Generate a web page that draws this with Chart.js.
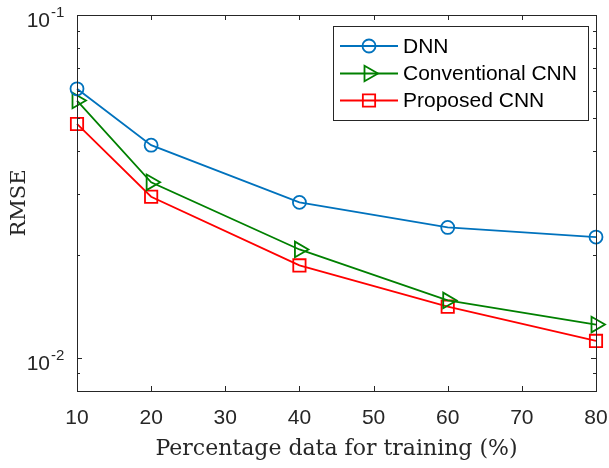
<!DOCTYPE html>
<html>
<head>
<meta charset="utf-8">
<script src="https://cdn.jsdelivr.net/npm/chart.js@4.4.0/dist/chart.umd.min.js"></script>
<style>
  html, body { margin: 0; padding: 0; background: #fff; }
</style>
</head>
<body>
<canvas id="grafikrmse" width="609" height="468"></canvas>
<script>
// data RMSE vs persentase data training
var percentages = [10, 20, 40, 60, 80];
var rmseDNN = [0.0609, 0.0417, 0.0284, 0.0240, 0.0225];
var rmseConvCNN = [0.0563, 0.0325, 0.0207, 0.0147, 0.0125];
var rmseProposedCNN = [0.0481, 0.0295, 0.0186, 0.0141, 0.0112];

var xTicks = [10, 20, 30, 40, 50, 60, 70, 80];
var yMajorTicks = [0.01, 0.1];
var yMajorLabels = [['10', '-2'], ['10', '-1']];
var yMinorTicks = [0.009, 0.02, 0.03, 0.04, 0.05, 0.06, 0.07, 0.08, 0.09];

var axisColor = '#262626';
var sansFont = '"Liberation Sans", Arial, sans-serif';

function toPoints(values) {
    return values.map(function(v, i) { return { x: percentages[i], y: v }; });
}

// gambar marker sendiri untuk legenda
function drawMarker(ctx, style, x, y, r, color) {
    ctx.save();
    ctx.strokeStyle = color;
    ctx.lineWidth = 1.8;
    ctx.beginPath();
    if (style === 'circle') {
        ctx.arc(x, y, r, 0, Math.PI * 2);
    } else if (style === 'triangle') {
        // segitiga menghadap ke kanan
        for (var k = 0; k < 3; k++) {
            var a = Math.PI / 2 + k * 2 * Math.PI / 3;
            var px = x + Math.sin(a) * r, py = y - Math.cos(a) * r;
            if (k === 0) ctx.moveTo(px, py); else ctx.lineTo(px, py);
        }
        ctx.closePath();
    } else {
        var s = Math.SQRT1_2 * r;
        ctx.rect(x - s, y - s, 2 * s, 2 * s);
    }
    ctx.stroke();
    ctx.restore();
}

// kotak sumbu, tick ke dalam, label 10^n dan legenda
var axesPlugin = {
    id: 'axesBox',
    afterDraw: function(chart) {
        var ctx = chart.ctx;
        var area = chart.chartArea;
        var xs = chart.scales.x, ys = chart.scales.y;
        ctx.save();
        ctx.strokeStyle = axisColor;
        ctx.lineWidth = 1;
        ctx.strokeRect(Math.round(area.left) + 0.5, Math.round(area.top) + 0.5,
            Math.round(area.right - area.left), Math.round(area.bottom - area.top));

        ctx.beginPath();
        xTicks.forEach(function(v) {
            var px = Math.round(xs.getPixelForValue(v)) + 0.5;
            ctx.moveTo(px, area.bottom); ctx.lineTo(px, area.bottom - 5);
            ctx.moveTo(px, area.top); ctx.lineTo(px, area.top + 5);
        });
        yMajorTicks.forEach(function(v) {
            var py = Math.round(ys.getPixelForValue(v)) + 0.5;
            ctx.moveTo(area.left, py); ctx.lineTo(area.left + 5, py);
            ctx.moveTo(area.right, py); ctx.lineTo(area.right - 5, py);
        });
        yMinorTicks.forEach(function(v) {
            var py = Math.round(ys.getPixelForValue(v)) + 0.5;
            ctx.moveTo(area.left, py); ctx.lineTo(area.left + 3, py);
            ctx.moveTo(area.right, py); ctx.lineTo(area.right - 3, py);
        });
        ctx.stroke();

        // label sumbu y: 10 dengan pangkat
        ctx.fillStyle = axisColor;
        ctx.textBaseline = 'alphabetic';
        yMajorTicks.forEach(function(v, i) {
            var py = ys.getPixelForValue(v);
            ctx.font = '21px ' + sansFont;
            ctx.textAlign = 'right';
            ctx.fillText(yMajorLabels[i][0], 50, py + 12);
            ctx.font = '15px ' + sansFont;
            ctx.textAlign = 'left';
            ctx.fillText(yMajorLabels[i][1], 51, py + 2);
        });

        // legenda
        var box = { left: 333.5, top: 26.5, width: 255, height: 94 };
        ctx.fillStyle = '#ffffff';
        ctx.fillRect(box.left, box.top, box.width, box.height);
        ctx.strokeStyle = axisColor;
        ctx.strokeRect(box.left, box.top, box.width, box.height);
        var rowsY = [46, 73.5, 100.5];
        chart.data.datasets.forEach(function(ds, i) {
            var y = rowsY[i];
            ctx.strokeStyle = ds.borderColor;
            ctx.lineWidth = 1.8;
            ctx.beginPath();
            ctx.moveTo(340, y); ctx.lineTo(398, y);
            ctx.stroke();
            drawMarker(ctx, ds.pointStyle, 369, y, ds.pointRadius, ds.borderColor);
            ctx.fillStyle = '#000000';
            ctx.font = '21px ' + sansFont;
            ctx.textAlign = 'left';
            ctx.textBaseline = 'middle';
            ctx.fillText(ds.label, 403, y + 1);
        });
        ctx.restore();
    }
};

var ctx = document.getElementById('grafikrmse').getContext('2d');
var myChart = new Chart(ctx, {
    type: 'line',
    data: {
        datasets: [{
            label: 'DNN',
            data: toPoints(rmseDNN),
            borderColor: '#0072BD',
            borderWidth: 1.8,
            pointStyle: 'circle',
            pointRadius: 6.5,
            pointBorderWidth: 1.8,
            pointBackgroundColor: 'rgba(0,0,0,0)',
            tension: 0,
            clip: false
        }, {
            label: 'Conventional CNN',
            data: toPoints(rmseConvCNN),
            borderColor: '#008000',
            borderWidth: 1.8,
            pointStyle: 'triangle',
            pointRotation: 90,
            pointRadius: 9,
            pointBorderWidth: 1.8,
            pointBackgroundColor: 'rgba(0,0,0,0)',
            tension: 0,
            clip: false
        }, {
            label: 'Proposed CNN',
            data: toPoints(rmseProposedCNN),
            borderColor: '#FF0000',
            borderWidth: 1.8,
            pointStyle: 'rect',
            pointRadius: 8.7,
            pointBorderWidth: 1.8,
            pointBackgroundColor: 'rgba(0,0,0,0)',
            tension: 0,
            clip: false
        }]
    },
    options: {
        responsive: false,
        animation: false,
        devicePixelRatio: 1,
        layout: { padding: { left: 0, top: 15, right: 13, bottom: 0 } },
        plugins: {
            legend: { display: false },
            tooltip: { enabled: false }
        },
        scales: {
            x: {
                type: 'linear',
                min: 10,
                max: 80,
                afterBuildTicks: function(scale) {
                    scale.ticks = xTicks.map(function(v) { return { value: v }; });
                },
                afterFit: function(scale) {
                    scale.height = 77;
                    scale.paddingLeft = 0;
                    scale.paddingRight = 0;
                },
                grid: { display: false },
                border: { display: false },
                ticks: {
                    color: axisColor,
                    padding: 7,
                    maxRotation: 0,
                    font: { family: sansFont, size: 21 }
                },
                title: {
                    display: true,
                    text: 'Percentage data for training (%)',
                    color: axisColor,
                    font: { family: '"DejaVu Serif", serif', size: 22 },
                    padding: { top: 0, bottom: 6 }
                }
            },
            y: {
                type: 'logarithmic',
                min: 0.008,
                max: 0.1,
                afterFit: function(scale) { scale.width = 77; },
                grid: { display: false },
                border: { display: false },
                ticks: { display: false },
                title: {
                    display: true,
                    text: 'RMSE',
                    color: axisColor,
                    font: { family: '"DejaVu Serif", serif', size: 21 },
                    padding: { top: 7, bottom: 0 }
                }
            }
        }
    },
    plugins: [axesPlugin]
});
</script>
</body>
</html>
